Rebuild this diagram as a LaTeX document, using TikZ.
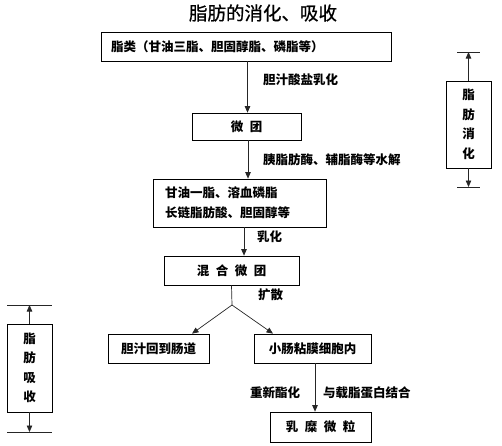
\documentclass[tikz,border=0pt]{standalone}
\usepackage{fontspec}
\setmainfont{Noto Sans CJK SC}
\newfontfamily\titlefont{Noto Sans CJK SC}[FakeBold=0.8]
\usetikzlibrary{arrows.meta}
\newcommand{\gapsp}{\hspace{6.5pt}}
\tikzset{
  box/.style={draw, line width=0.7pt, inner sep=0pt, font=\fontsize{12.5}{15}\selectfont\bfseries},
  arr/.style={draw=black!85, line width=0.7pt, -{Triangle[width=5.5pt,length=6.5pt]}},
  ln/.style={draw=black!85, line width=0.7pt},
  lbl/.style={anchor=west, inner sep=0pt, font=\fontsize{12.5}{15}\selectfont\bfseries},
  side/.style={draw, line width=0.7pt, inner sep=0pt, minimum width=45pt, align=center,
    font=\fontsize{12.5}{19.5}\selectfont\bfseries},
}
\begin{document}
\begin{tikzpicture}[x=1pt,y=-1pt]
\useasboundingbox (0,0) rectangle (502,445);
\node[font=\fontsize{18.5}{20}\selectfont\titlefont] (title) at (263,13) {脂肪的消化、吸收};

\node[box, text width=270pt, align=left, inner xsep=10pt, minimum height=29pt] (b1) at (246,46.5)
  {脂类（甘油三脂、胆固醇脂、磷脂等）};
\node[box, minimum width=109pt, minimum height=27pt] (b2) at (246.5,126.5) {微\gapsp 团};
\node[box, text width=149pt, align=left, inner xsep=12pt, minimum height=48pt,
  font=\fontsize{12.5}{20}\selectfont\bfseries] (b3) at (239.5,203)
  {甘油一脂、溶血磷脂\\长链脂肪酸、胆固醇等};
\node[box, minimum width=135pt, minimum height=29pt] (b4) at (231.5,270.5) {混\gapsp 合\gapsp 微\gapsp 团};
\node[box, minimum width=101pt, minimum height=29pt] (b5) at (158.5,348.5) {胆汁回到肠道};
\node[box, minimum width=117pt, minimum height=29pt] (b6) at (312.5,348.5) {小肠粘膜细胞内};
\node[box, minimum width=101pt, minimum height=30pt] (b7) at (320.5,427) {乳\gapsp 糜\gapsp 微\gapsp 粒};

\draw[arr] ([xshift=1.5pt]b1.south) -- ([xshift=1.5pt]b1.south |- b2.north);
\node[lbl] (l1) at (263,80) {胆汁酸盐乳化};
\draw[arr] ([xshift=1.5pt]b2.south) -- ([xshift=1.5pt]b2.south |- b3.north);
\node[lbl] (l2) at (263,160) {胰脂肪酶、辅脂酶等水解};
\draw[arr] ([xshift=4.5pt]b3.south) -- ([xshift=4.5pt]b3.south |- b4.north);
\node[lbl] (l3) at (257,237) {乳化};
\coordinate (fork) at (232,305);
\draw[ln] (b4.south) -- (fork);
\node[lbl] (l4) at (258,295) {扩散};
\draw[arr] (fork) -- ([xshift=33.5pt]b5.north);
\draw[arr] (fork) -- ([xshift=-39.5pt]b6.north);
\draw[arr] ([xshift=2.5pt]b6.south) -- ([xshift=2.5pt]b6.south |- b7.north);
\node[lbl] (l5) at (250,393) {重新酯化};
\node[lbl] (l6) at (323,393) {与载脂蛋白结合};

% right bracket
\node[side, minimum height=87pt] (rs) at (468.5,124.5) {脂\\肪\\消\\化};
\coordinate (rtop) at (468.5,52);
\coordinate (rbot) at (468.5,187);
\draw[ln] (457,52) -- (480,52);
\draw[ln] (457,187) -- (480,187);
\draw[arr] (rs.north) -- (rtop);
\draw[arr] (rs.south) -- (rbot);

% left bracket
\node[side, minimum height=88pt] (ls) at (29.5,368) {脂\\肪\\吸\\收};
\coordinate (ltop) at (29.5,305);
\coordinate (lbot) at (29.5,432);
\draw[ln] (7,305) -- (52,305);
\draw[ln] (7,432) -- (52,432);
\draw[arr] (ls.north) -- (ltop);
\draw[arr] (ls.south) -- (lbot);
\end{tikzpicture}
\end{document}
